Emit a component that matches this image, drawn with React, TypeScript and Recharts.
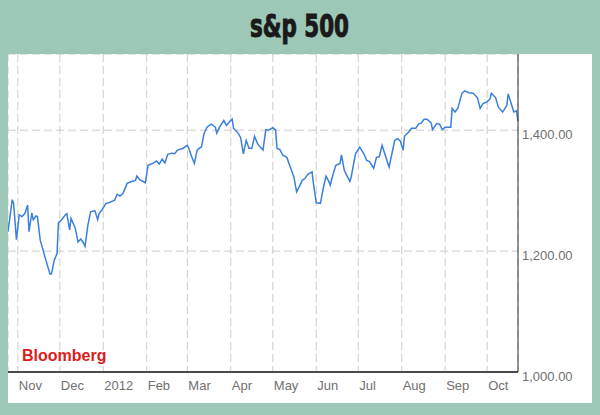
import { LineChart, Line, XAxis, YAxis, CartesianGrid } from 'recharts';

// S&P 500 closes (Oct 2011 - Oct 2012)
const dates = [
  '2011-10-25', '2011-10-28', '2011-10-29', '2011-10-31', '2011-11-02', '2011-11-04', '2011-11-06', '2011-11-08',
  '2011-11-09', '2011-11-11', '2011-11-12', '2011-11-14', '2011-11-15', '2011-11-17', '2011-11-19', '2011-11-21',
  '2011-11-24', '2011-11-25', '2011-11-27', '2011-11-29', '2011-11-30', '2011-12-02', '2011-12-05', '2011-12-06',
  '2011-12-08', '2011-12-09', '2011-12-12', '2011-12-14', '2011-12-16', '2011-12-18', '2011-12-19', '2011-12-21',
  '2011-12-23', '2011-12-26', '2011-12-28', '2011-12-29', '2011-12-31', '2012-01-03', '2012-01-05', '2012-01-08',
  '2012-01-09', '2012-01-11', '2012-01-13', '2012-01-15', '2012-01-18', '2012-01-21', '2012-01-24', '2012-01-25',
  '2012-01-27', '2012-01-31', '2012-02-02', '2012-02-06', '2012-02-08', '2012-02-10', '2012-02-12', '2012-02-14',
  '2012-02-16', '2012-02-19', '2012-02-21', '2012-02-23', '2012-02-27', '2012-02-28', '2012-03-01', '2012-03-02',
  '2012-03-04', '2012-03-06', '2012-03-08', '2012-03-10', '2012-03-11', '2012-03-13', '2012-03-15', '2012-03-18',
  '2012-03-21', '2012-03-22', '2012-03-24', '2012-03-27', '2012-03-29', '2012-03-31', '2012-04-02', '2012-04-03',
  '2012-04-06', '2012-04-08', '2012-04-10', '2012-04-12', '2012-04-14', '2012-04-16', '2012-04-18', '2012-04-20',
  '2012-04-22', '2012-04-24', '2012-04-26', '2012-04-28', '2012-05-01', '2012-05-03', '2012-05-04', '2012-05-06',
  '2012-05-08', '2012-05-11', '2012-05-13', '2012-05-16', '2012-05-18', '2012-05-20', '2012-05-22', '2012-05-24',
  '2012-05-26', '2012-05-29', '2012-05-30', '2012-06-01', '2012-06-04', '2012-06-06', '2012-06-08', '2012-06-10',
  '2012-06-11', '2012-06-13', '2012-06-15', '2012-06-18', '2012-06-19', '2012-06-21', '2012-06-22', '2012-06-25',
  '2012-06-26', '2012-06-29', '2012-07-02', '2012-07-05', '2012-07-07', '2012-07-09', '2012-07-12', '2012-07-14',
  '2012-07-16', '2012-07-18', '2012-07-21', '2012-07-23', '2012-07-25', '2012-07-27', '2012-07-29', '2012-07-31',
  '2012-08-02', '2012-08-03', '2012-08-06', '2012-08-08', '2012-08-11', '2012-08-13', '2012-08-15', '2012-08-17',
  '2012-08-19', '2012-08-22', '2012-08-23', '2012-08-26', '2012-08-28', '2012-08-30', '2012-09-01', '2012-09-05',
  '2012-09-06', '2012-09-08', '2012-09-10', '2012-09-13', '2012-09-15', '2012-09-18', '2012-09-21', '2012-09-24',
  '2012-09-26', '2012-09-28', '2012-10-01', '2012-10-03', '2012-10-04', '2012-10-07', '2012-10-09', '2012-10-12',
  '2012-10-15', '2012-10-16', '2012-10-18', '2012-10-20', '2012-10-22', '2012-10-23',
];

const closes = [
  1232, 1285, 1279, 1219, 1260, 1257, 1262, 1276,
  1232, 1263, 1252, 1258, 1257, 1218, 1202, 1185,
  1162, 1162, 1185, 1196, 1247, 1251, 1260, 1262,
  1235, 1254, 1238, 1215, 1220, 1213, 1208, 1243,
  1265, 1267, 1252, 1262, 1268, 1279, 1280, 1283,
  1284, 1294, 1291, 1295, 1312, 1315, 1317, 1324,
  1318, 1313, 1342, 1346, 1349, 1344, 1352, 1346,
  1360, 1362, 1361, 1367, 1370, 1372, 1375, 1370,
  1357, 1345, 1367, 1371, 1372, 1395, 1405, 1410,
  1405, 1395, 1405, 1416, 1408, 1414, 1418, 1403,
  1396, 1388, 1361, 1383, 1370, 1370, 1390, 1378,
  1372, 1367, 1401, 1400, 1404, 1400, 1370, 1368,
  1359, 1355, 1342, 1323, 1298, 1307, 1317, 1320,
  1327, 1331, 1312, 1280, 1279, 1304, 1324, 1315,
  1309, 1327, 1342, 1345, 1359, 1334, 1329, 1315,
  1323, 1361, 1372, 1361, 1350, 1348, 1337, 1355,
  1356, 1375, 1353, 1339, 1361, 1383, 1386, 1382,
  1367, 1390, 1397, 1403, 1403, 1410, 1412, 1418,
  1418, 1412, 1401, 1411, 1410, 1401, 1405, 1405,
  1436, 1430, 1436, 1461, 1465, 1462, 1461, 1454,
  1436, 1444, 1447, 1452, 1461, 1454, 1438, 1430,
  1441, 1460, 1445, 1430, 1432, 1415,
];

const monthStarts = [
  '2011-11-01', '2011-12-01', '2012-01-01', '2012-02-01', '2012-03-01', '2012-04-01',
  '2012-05-01', '2012-06-01', '2012-07-01', '2012-08-01', '2012-09-01', '2012-10-01',
];
const monthLabels = ['Nov', 'Dec', '2012', 'Feb', 'Mar', 'Apr', 'May', 'Jun', 'Jul', 'Aug', 'Sep', 'Oct'];

const priceTicks = [1000, 1200, 1400];

const data = dates.map((d, i) => ({ t: Date.parse(d), close: closes[i] }));
const xTicks = monthStarts.map((d) => Date.parse(d));

const FONT = '"Liberation Sans", Arial, sans-serif';

function MonthTick({ x, y, payload }: any) {
  const idx = xTicks.indexOf(payload.value);
  return (
    <text x={x + 1} y={y + 18} textAnchor="start" fill="#707070" fontSize={13} fontFamily={FONT}>
      {monthLabels[idx]}
    </text>
  );
}

function PriceTick({ x, y, payload }: any) {
  return (
    <text x={x + 4} y={y + 8.5} textAnchor="start" fill="#707070" fontSize={13} fontFamily={FONT}>
      {payload.value.toLocaleString('en-US', { minimumFractionDigits: 2, maximumFractionDigits: 2 })}
    </text>
  );
}

export default function App() {
  return (
    <div style={{ position: 'fixed', left: 0, top: 0, width: 600, height: 415, background: '#9dc8b7', overflow: 'hidden' }}>
      <svg width={600} height={54} style={{ position: 'absolute', left: 0, top: 0 }}>
        <text
          x={250}
          y={37}
          textLength={99}
          lengthAdjust="spacingAndGlyphs"
          fontSize={32}
          fontWeight="bold"
          fill="#1a1a1a"
          stroke="#1a1a1a"
          strokeWidth={1}
          fontFamily='"Liberation Sans Narrow", "DejaVu Sans Condensed", sans-serif'
        >
          s&amp;p 500
        </text>
      </svg>
      <div style={{ position: 'absolute', left: 8, top: 54, width: 584, height: 349, background: '#ffffff' }}>
        <LineChart width={584} height={349} data={data} margin={{ top: 0, right: 0, bottom: 0, left: 0 }}>
          <CartesianGrid stroke="#cccccc" strokeDasharray="8 4" />
          <XAxis
            dataKey="t"
            type="number"
            scale="time"
            domain={[Date.parse('2011-10-25'), Date.parse('2012-10-23')]}
            ticks={xTicks}
            interval={0}
            height={31}
            tickLine={false}
            tickSize={0}
            tickMargin={0}
            axisLine={{ stroke: '#4a4a4a', strokeWidth: 2 }}
            tick={<MonthTick />}
          />
          <YAxis
            orientation="right"
            domain={[1000, 1526]}
            ticks={priceTicks}
            width={74}
            tickLine={false}
            tickSize={0}
            tickMargin={0}
            axisLine={{ stroke: '#333333', strokeWidth: 1 }}
            tick={<PriceTick />}
          />
          <Line
            type="linear"
            dataKey="close"
            stroke="#3b7fdc"
            strokeWidth={1.5}
            dot={false}
            isAnimationActive={false}
          />
        </LineChart>
        <div
          style={{
            position: 'absolute',
            left: 14,
            top: 292,
            color: '#e01b1b',
            fontFamily: FONT,
            fontWeight: 'bold',
            fontSize: 16,
            lineHeight: '20px',
          }}
        >
          Bloomberg
        </div>
      </div>
    </div>
  );
}
